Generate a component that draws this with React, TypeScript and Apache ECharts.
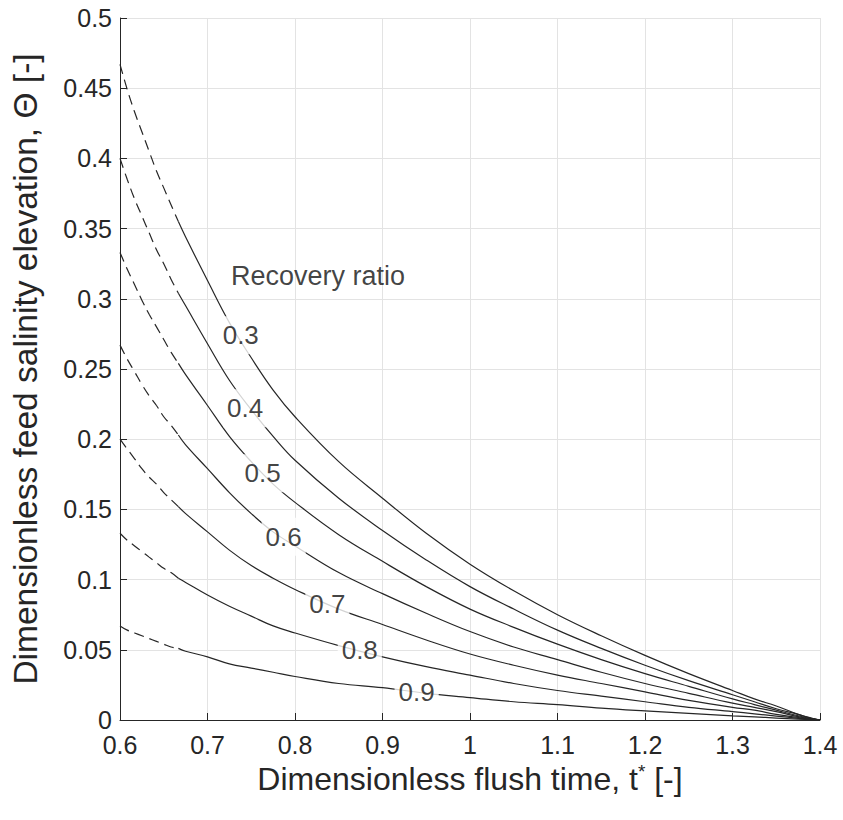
import React, { useEffect, useRef } from "react";
import * as echarts from "echarts";

// Dimensionless flush time t* sample points
const T = [0.6, 0.6083, 0.6167, 0.625, 0.6333, 0.6417, 0.65, 0.6583, 0.6667, 0.675, 0.7, 0.725, 0.75, 0.775, 0.8, 0.85, 0.9, 0.95, 1.0, 1.05, 1.1, 1.15, 1.2, 1.25, 1.3, 1.325, 1.35, 1.375, 1.39, 1.4];
// index where the dashed part ends / solid starts
const SPLIT_INDEX = 8;

const RECOVERY = ["0.3", "0.4", "0.5", "0.6", "0.7", "0.8", "0.9"];

const THETA_03 = [0.467, 0.449, 0.433, 0.419, 0.405, 0.391, 0.379, 0.367, 0.355, 0.344, 0.313, 0.283, 0.258, 0.235, 0.216, 0.184, 0.158, 0.133, 0.111, 0.092, 0.075, 0.060, 0.046, 0.033, 0.021, 0.015, 0.010, 0.004, 0.0014, 0];
const THETA_04 = [0.400, 0.385, 0.371, 0.359, 0.347, 0.335, 0.325, 0.314, 0.304, 0.295, 0.268, 0.242, 0.221, 0.202, 0.185, 0.158, 0.135, 0.114, 0.095, 0.079, 0.064, 0.051, 0.039, 0.028, 0.018, 0.013, 0.008, 0.004, 0.0012, 0];
const THETA_05 = [0.333, 0.321, 0.310, 0.299, 0.289, 0.280, 0.271, 0.262, 0.254, 0.246, 0.224, 0.202, 0.184, 0.168, 0.155, 0.132, 0.113, 0.095, 0.079, 0.066, 0.054, 0.043, 0.033, 0.024, 0.015, 0.011, 0.007, 0.003, 0.001, 0];
const THETA_06 = [0.267, 0.257, 0.248, 0.239, 0.231, 0.224, 0.216, 0.210, 0.203, 0.196, 0.179, 0.162, 0.147, 0.134, 0.124, 0.105, 0.090, 0.076, 0.063, 0.052, 0.043, 0.034, 0.026, 0.019, 0.012, 0.009, 0.006, 0.0024, 0.0008, 0];
const THETA_07 = [0.200, 0.193, 0.186, 0.179, 0.173, 0.168, 0.162, 0.157, 0.152, 0.147, 0.134, 0.121, 0.110, 0.101, 0.093, 0.079, 0.068, 0.057, 0.047, 0.039, 0.032, 0.026, 0.020, 0.014, 0.009, 0.007, 0.004, 0.0018, 0.0006, 0];
const THETA_08 = [0.133, 0.128, 0.124, 0.120, 0.116, 0.112, 0.108, 0.105, 0.101, 0.098, 0.089, 0.081, 0.074, 0.067, 0.062, 0.053, 0.045, 0.038, 0.032, 0.026, 0.021, 0.017, 0.013, 0.009, 0.006, 0.0044, 0.0028, 0.0012, 0.0004, 0];
const THETA_09 = [0.067, 0.064, 0.062, 0.060, 0.058, 0.056, 0.054, 0.052, 0.051, 0.049, 0.045, 0.040, 0.037, 0.034, 0.031, 0.026, 0.023, 0.019, 0.016, 0.013, 0.011, 0.0085, 0.0065, 0.0047, 0.003, 0.0022, 0.0014, 0.0006, 0.0002, 0];

const CURVES = [THETA_03, THETA_04, THETA_05, THETA_06, THETA_07, THETA_08, THETA_09];

// inline contour-label anchors [t*, Θ]
const LABEL_T = [0.738, 0.743, 0.763, 0.787, 0.837, 0.874, 0.939];
const LABEL_THETA = [0.274, 0.222, 0.1757, 0.1306, 0.0826, 0.0499, 0.0199];

const TITLE_TEXT = "Recovery ratio";
const TITLE_POS = [0.7263, 0.316];

const X_TICKS = { min: 0.6, max: 1.4, interval: 0.1 };
const Y_TICKS = { min: 0, max: 0.5, interval: 0.05 };

const FONT = "'Liberation Sans', Arial, Helvetica, sans-serif";
const INK = "#262626";

export default function App() {
  const ref = useRef<HTMLDivElement>(null);

  useEffect(() => {
    if (!ref.current) return;
    const chart = echarts.init(ref.current, undefined, { renderer: "svg" });

    const series: any[] = [];
    CURVES.forEach((vals, i) => {
      const pts = T.map((t, k) => [t, vals[k]]);
      series.push({
        type: "line",
        name: "dash" + RECOVERY[i],
        data: pts.slice(0, SPLIT_INDEX + 1),
        showSymbol: false,
        symbol: "none",
        smooth: 0.4,
        lineStyle: { color: INK, width: 1.2, type: [10, 6] },
        z: 2,
        silent: true,
      });
      series.push({
        type: "line",
        name: "solid" + RECOVERY[i],
        data: pts.slice(SPLIT_INDEX),
        showSymbol: false,
        symbol: "none",
        smooth: 0.4,
        lineStyle: { color: INK, width: 1.2 },
        z: 2,
        silent: true,
      });
    });

    series.push({
      type: "scatter",
      z: 10,
      symbolSize: 1,
      itemStyle: { color: "rgba(0,0,0,0)" },
      silent: true,
      data: RECOVERY.map((r, i) => ({
        value: [LABEL_T[i], LABEL_THETA[i]],
        name: r,
      })),
      label: {
        show: true,
        position: "inside",
        formatter: (p: any) => p.name,
        fontFamily: FONT,
        fontSize: 26,
        color: "#111",
        backgroundColor: "#fff",
        padding: [7, 4, 5, 4],
      },
    });

    series.push({
      type: "scatter",
      z: 10,
      symbolSize: 1,
      itemStyle: { color: "rgba(0,0,0,0)" },
      silent: true,
      data: [{ value: TITLE_POS, name: TITLE_TEXT }],
      label: {
        show: true,
        position: "right",
        distance: 0,
        formatter: (p: any) => p.name,
        fontFamily: FONT,
        fontSize: 27,
        color: "#111",
      },
    });

    chart.setOption({
      animation: false,
      backgroundColor: "#fff",
      textStyle: { fontFamily: FONT },
      grid: { left: 117, top: 18, width: 703, height: 702, containLabel: false },
      xAxis: {
        type: "value",
        min: X_TICKS.min,
        max: X_TICKS.max,
        interval: X_TICKS.interval,
        name: "Dimensionless flush time, t{sup|*} [-]",
        nameLocation: "middle",
        nameGap: 40,
        nameTextStyle: {
          fontFamily: FONT,
          fontSize: 32,
          color: INK,
          verticalAlign: "top",
          rich: {
            sup: { fontSize: 19, verticalAlign: "top", padding: [0, 0, 15, 0], color: INK, fontFamily: FONT },
          },
        },
        axisLine: { show: true, lineStyle: { color: INK, width: 1 } },
        axisTick: { show: true, inside: true, length: 7, lineStyle: { color: INK } },
        axisLabel: { fontSize: 25, color: INK, margin: 12, fontFamily: FONT },
        splitLine: { show: true, lineStyle: { color: "#e3e3e3", width: 1 } },
      },
      yAxis: {
        type: "value",
        min: Y_TICKS.min,
        max: Y_TICKS.max,
        interval: Y_TICKS.interval,
        name: "Dimensionless feed salinity elevation, Θ [-]",
        nameLocation: "middle",
        nameGap: 78,
        nameTextStyle: { fontFamily: FONT, fontSize: 33.5, color: INK },
        axisLine: { show: true, lineStyle: { color: INK, width: 1 } },
        axisTick: { show: true, inside: true, length: 7, lineStyle: { color: INK } },
        axisLabel: { fontSize: 25, color: INK, margin: 8, fontFamily: FONT },
        splitLine: { show: true, lineStyle: { color: "#e3e3e3", width: 1 } },
      },
      series,
    });

    return () => chart.dispose();
  }, []);

  return (
    <div
      ref={ref}
      style={{ position: "absolute", left: 0, top: 0, width: 843, height: 820 }}
    />
  );
}
